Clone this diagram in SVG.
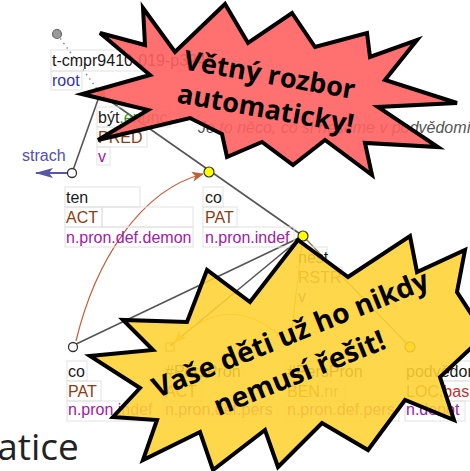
<svg xmlns="http://www.w3.org/2000/svg" width="470" height="471" viewBox="0 0 470 471">
<style>
text{font-family:"Liberation Sans",Arial,sans-serif;font-size:16px}
.w{fill:#1a1a1a}.f{fill:#8a3c14}.s{fill:#a020a8}.bx{fill:none;stroke:#e2e2e2;stroke-width:1}
.ed{stroke:#555;stroke-width:1.6;fill:none}
.big{font-family:"Open Sans","DejaVu Sans",sans-serif;font-weight:bold;font-size:27px;fill:#000;text-anchor:middle}
.big2{font-family:"Open Sans","DejaVu Sans",sans-serif;font-weight:bold;font-size:28px;fill:#000;text-anchor:middle}
.mt{font-family:"Open Sans","DejaVu Sans",sans-serif;font-size:37px;fill:#222}
.star{stroke:#000;stroke-width:4;stroke-linejoin:miter}
</style>
<defs>
<marker id="ar" viewBox="0 0 12 10" refX="11" refY="5" markerWidth="12" markerHeight="10" markerUnits="userSpaceOnUse" orient="auto"><path d="M0,0 L12,5 L0,10 L3,5 Z" fill="#c0603a"/></marker>
<marker id="ab" viewBox="0 0 18 10" refX="17" refY="5" markerWidth="18" markerHeight="10" markerUnits="userSpaceOnUse" orient="auto"><path d="M0,0 L18,5 L0,10 L4,5 Z" fill="#5555aa"/></marker>
<marker id="ao" viewBox="0 0 12 10" refX="11" refY="5" markerWidth="12" markerHeight="10" markerUnits="userSpaceOnUse" orient="auto"><path d="M0,0 L12,5 L0,10 L3,5 Z" fill="#e0a020"/></marker>
</defs>
<rect width="470" height="471" fill="#fff"/>
<g id="connectors">
<line x1="57" y1="34" x2="100" y2="93" stroke="#888" stroke-width="1.5" stroke-dasharray="1.5,4"/>
<line class="ed" x1="100" y1="94" x2="72" y2="173"/>
<line class="ed" x1="100" y1="94" x2="303" y2="236"/>
<line x1="68" y1="173" x2="36" y2="173" stroke="#5555aa" stroke-width="2" marker-end="url(#ab)"/>
<path d="M76,341 C95,262 140,190 203,174" fill="none" stroke="#c0603a" stroke-width="1.2" marker-end="url(#ar)"/>
<line class="ed" x1="303" y1="236" x2="72" y2="346"/>
<line class="ed" x1="303" y1="236" x2="170" y2="346"/>
<line x1="303" y1="236" x2="290" y2="345" stroke="#b08a30" stroke-width="1.2"/>
<line x1="303" y1="236" x2="410" y2="347" stroke="#8a7a50" stroke-width="1.2"/>
<path d="M290,345 Q232,285 175,342" fill="none" stroke="#e0a020" stroke-width="1.2" marker-end="url(#ao)"/>
</g>
<g id="n-root">
<circle cx="57" cy="34" r="4.5" fill="#999" stroke="#666" stroke-width="1.2"/>
<rect class="bx" x="51" y="50" width="170" height="21"/>
<rect class="bx" x="51" y="71" width="31" height="19"/>
<text x="52" y="66" class="w">t-cmpr9410-019-p324s</text>
<text x="52" y="86" fill="#3333aa">root</text>
</g>
<g id="n-byt">
<rect x="97" y="90" width="8" height="6" fill="#f08020"/>
<rect class="bx" x="97" y="107" width="73" height="20"/>
<rect class="bx" x="97" y="127" width="50" height="20"/>
<rect class="bx" x="97" y="147" width="13" height="18"/>
<text x="98" y="123"><tspan class="w">být</tspan><tspan fill="#2e9a2e">.enunc</tspan></text>
<text x="98" y="143" class="f">PRED</text>
<text x="98" y="162" class="s">v</text>
<text x="198" y="133" fill="#555" font-style="italic">Je to něco, co si neseme v podvědomí</text>
</g>
<g id="n-strach">
<circle cx="72" cy="173" r="4.5" fill="#fff" stroke="#333" stroke-width="1.3"/>
<text x="22" y="161" fill="#5050b0">strach</text>
</g>
<g id="n-ten">
<rect class="bx" x="65" y="187" width="75" height="20"/>
<rect class="bx" x="65" y="207" width="37" height="20"/>
<rect class="bx" x="102" y="207" width="91" height="20"/>
<rect class="bx" x="65" y="227" width="128" height="20"/>
<text x="66" y="203" class="w">ten</text>
<text x="66" y="223" class="f">ACT</text>
<text x="66" y="243" class="s">n.pron.def.demon</text>
</g>
<g id="n-co1">
<circle cx="209" cy="172" r="5" fill="#ffff00" stroke="#333" stroke-width="1.2"/>
<rect class="bx" x="203" y="187" width="20" height="20"/>
<rect class="bx" x="203" y="207" width="34" height="20"/>
<rect class="bx" x="203" y="227" width="91" height="20"/>
<text x="205" y="203" class="w">co</text>
<text x="205" y="223" class="f">PAT</text>
<text x="205" y="243" class="s">n.pron.indef</text>
</g>
<g id="n-nest">
<circle cx="303" cy="236" r="5" fill="#ffff00" stroke="#333" stroke-width="1.2"/>
<rect class="bx" x="297" y="247" width="30" height="20"/>
<rect class="bx" x="297" y="267" width="45" height="20"/>
<rect class="bx" x="297" y="287" width="13" height="18"/>
<text x="298" y="263" class="w">nést</text>
<text x="298" y="283" class="f">RSTR</text>
<text x="298" y="302" class="s">v</text>
</g>
<g id="n-co2">
<circle cx="73" cy="347" r="4.5" fill="#fff" stroke="#333" stroke-width="1.3"/>
<rect class="bx" x="67" y="361" width="20" height="20"/>
<rect class="bx" x="67" y="381" width="34" height="20"/>
<rect class="bx" x="67" y="401" width="91" height="20"/>
<text x="68" y="377" class="w">co</text>
<text x="68" y="397" class="f">PAT</text>
<text x="68" y="415" class="s">n.pron.indef</text>
</g>
<g id="n-pers1">
<rect x="166" y="343" width="8" height="8" fill="none" stroke="#c08030" stroke-width="1.2"/>
<rect class="bx" x="164" y="361" width="80" height="20"/>
<rect class="bx" x="164" y="381" width="38" height="20"/>
<rect class="bx" x="164" y="401" width="114" height="20"/>
<text x="165" y="377" class="w">#PersPron</text>
<text x="165" y="397" class="f">ACT</text>
<text x="165" y="415" class="s">n.pron.def.pers</text>
</g>
<g id="n-pers2">
<rect class="bx" x="285" y="361" width="80" height="20"/>
<rect class="bx" x="285" y="381" width="60" height="20"/>
<rect class="bx" x="285" y="401" width="114" height="20"/>
<text x="287" y="377" class="w">#PersPron</text>
<text x="287" y="397" class="f">BEN<tspan fill="#777">.nr</tspan></text>
<text x="287" y="415" class="s">n.pron.def.pers</text>
</g>
<g id="n-podv">
<circle cx="410" cy="347" r="5" fill="#ffff00" stroke="#333" stroke-width="1.2"/>
<rect class="bx" x="405" y="361" width="80" height="20"/>
<rect class="bx" x="405" y="381" width="80" height="20"/>
<rect class="bx" x="405" y="401" width="60" height="20"/>
<text x="406" y="377" class="w">podvědomí</text>
<text x="406" y="397" class="f">LOC<tspan fill="#c03030">.basic</tspan></text>
<text x="406" y="415" class="s">n.denot</text>
</g>
<text x="-37" y="460" class="mt">matice</text>
<g id="star-red">
<polygon class="star" fill="#ff6060" fill-opacity="0.9" points="143,8 175,52 225,4 248,43 292,13 315,47 367,33 370,57 417,40 385,80 457,103 378,107 438,147 365,143 372,175 325,140 293,165 262,142 227,157 222,134 190,118 98,140 148,110 82,94 150,75 100,33 145,45"/>
<text class="big" transform="translate(268,84) rotate(10)">Větný rozbor</text>
<text class="big" transform="translate(264,118) rotate(10)">automaticky!</text>
</g>
<g id="star-yellow">
<polygon class="star" fill="#ffd232" fill-opacity="0.88" points="298,240 348,277 410,236 417,272 465,250 457,292 485,335 440,377 454,420 405,400 368,450 322,423 278,467 265,430 213,470 200,432 143,460 157,420 113,417 140,388 90,356 153,350 123,320 187,322 207,270 250,302"/>
<text class="big2" transform="translate(294,343) rotate(-22)">Vaše děti už ho nikdy</text>
<text class="big2" transform="translate(303,382) rotate(-22)">nemusí řešit!</text>
</g>
</svg>
